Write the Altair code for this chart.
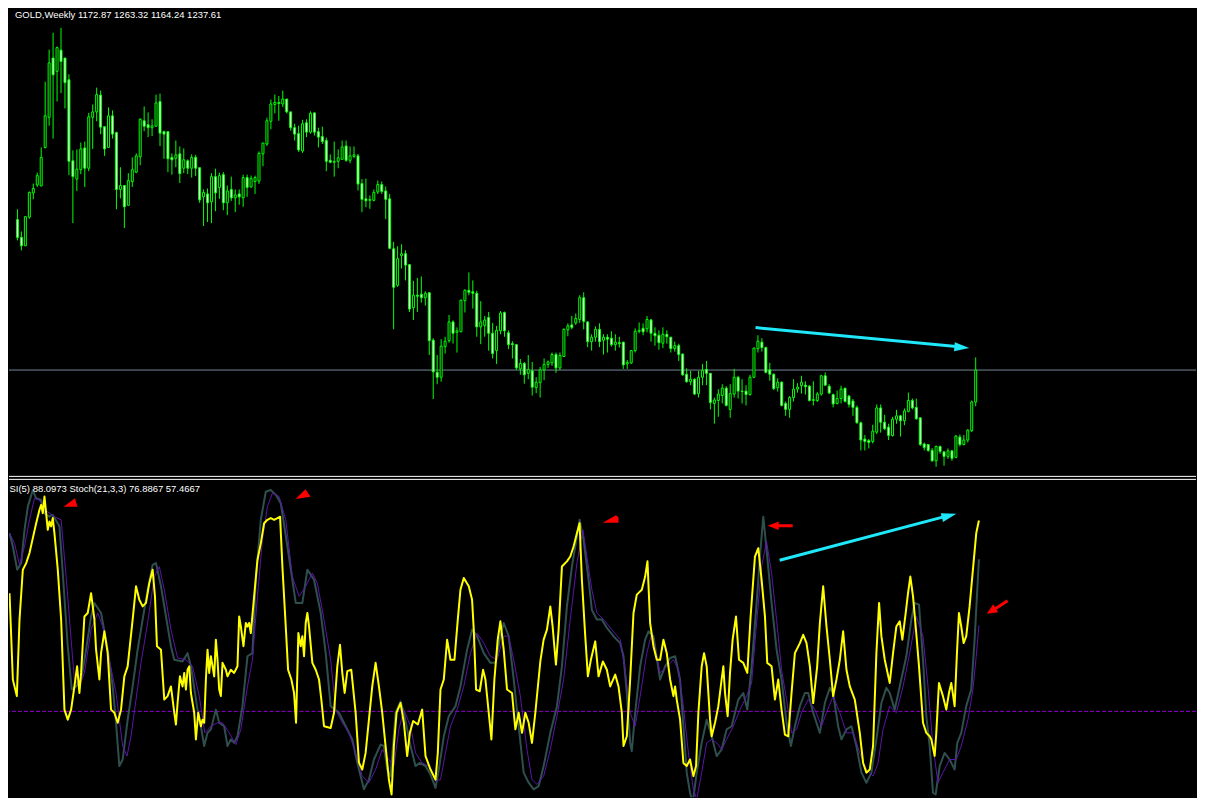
import altair as alt
import pandas as pd

# ---------------- weekly GOLD candles ----------------
O = [1542,1506,1489,1547,1596,1612,1610,1688,1749,1869,
     1842,1885,1869,1825,1661,1624,1643,1687,1646,1749,
     1760,1794,1730,1688,1752,1718,1603,1611,1571,1619,
     1638,1669,1742,1734,1728,1731,1781,1720,1720,1668,
     1666,1675,1646,1661,1646,1668,1647,1588,1594,1578,
     1629,1607,1633,1576,1603,1586,1594,1586,1627,1608,
     1619,1620,1675,1695,1741,1775,1779,1776,1786,1760,
     1728,1716,1681,1738,1719,1758,1720,1710,1702,1662,
     1658,1660,1664,1691,1662,1670,1671,1615,1584,1581,
     1581,1598,1613,1600,1584,1483,1409,1469,1473,1451,
     1364,1389,1391,1384,1394,1298,1233,1223,1285,1297,
     1335,1314,1315,1378,1399,1396,1393,1325,1328,1344,
     1312,1277,1317,1354,1313,1291,1289,1240,1251,1231,
     1236,1202,1212,1238,1249,1252,1269,1242,1265,1319,
     1329,1333,1340,1384,1335,1295,1304,1320,1298,1304,
     1302,1289,1293,1294,1250,1252,1277,1316,1322,1321,
     1339,1312,1308,1292,1310,1304,1281,1287,1270,1229,
     1214,1219,1190,1223,1239,1231,1170,1176,1186,1201,
     1158,1189,1223,1195,1195,1188,1223,1281,1294,1283,
     1238,1229,1202,1213,1170,1158,1182,1199,1206,1207,
     1205,1176,1176,1189,1226,1205,1188,1170,1180,1201,
     1185,1175,1162,1131,1098,1095,1093,1112,1161,1132,
     1122,1105,1138,1145,1135,1154,1176,1162,1141,1088,
     1087,1075,1054,1083,1072,1063,1074,1061,1102,1087,
     1096,1115,1172.87]

H = [1563,1518,1548,1599,1615,1637,1688,1821,1886,1920,
     1892,1930,1869,1836,1682,1684,1698,1700,1758,1775,
     1809,1803,1730,1769,1763,1720,1648,1611,1636,1668,
     1676,1747,1771,1759,1745,1795,1797,1722,1720,1676,
     1702,1690,1686,1664,1674,1673,1647,1603,1605,1636,
     1645,1637,1638,1611,1629,1603,1603,1633,1633,1631,
     1631,1680,1697,1748,1785,1795,1792,1803,1786,1760,
     1736,1732,1744,1745,1761,1758,1728,1730,1708,1674,
     1700,1684,1702,1702,1690,1690,1675,1624,1625,1591,
     1603,1621,1619,1609,1594,1497,1488,1492,1480,1451,
     1418,1424,1427,1397,1395,1302,1268,1300,1305,1349,
     1338,1324,1380,1401,1435,1419,1398,1377,1347,1355,
     1333,1327,1357,1356,1318,1296,1289,1260,1254,1268,
     1254,1223,1244,1261,1257,1273,1273,1273,1322,1332,
     1347,1352,1389,1395,1336,1310,1326,1332,1310,1310,
     1316,1310,1305,1295,1258,1278,1322,1334,1332,1347,
     1341,1324,1318,1324,1318,1305,1295,1291,1271,1241,
     1236,1221,1236,1250,1256,1231,1182,1199,1209,1205,
     1209,1240,1226,1219,1207,1228,1283,1308,1302,1285,
     1252,1231,1221,1215,1174,1185,1219,1211,1226,1215,
     1207,1215,1193,1228,1233,1209,1190,1196,1206,1201,
     1187,1179,1166,1133,1106,1098,1127,1168,1168,1147,
     1129,1143,1157,1147,1160,1192,1180,1180,1142,1091,
     1088,1080,1085,1085,1074,1079,1076,1106,1107,1106,
     1118,1176,1263.32]

L = [1500,1480,1489,1544,1583,1608,1610,1686,1732,1706,
     1781,1798,1767,1632,1535,1600,1634,1608,1640,1685,
     1741,1715,1671,1687,1706,1563,1585,1525,1570,1608,
     1636,1652,1721,1709,1711,1731,1691,1665,1638,1633,
     1648,1616,1636,1634,1627,1630,1576,1529,1537,1535,
     1559,1584,1561,1551,1580,1557,1572,1568,1588,1607,
     1594,1614,1650,1691,1725,1757,1742,1770,1757,1722,
     1702,1679,1677,1709,1716,1712,1688,1695,1640,1656,
     1629,1646,1664,1659,1656,1666,1601,1557,1567,1564,
     1579,1594,1594,1543,1482,1320,1406,1443,1419,1355,
     1339,1355,1374,1368,1268,1179,1209,1214,1271,1293,
     1291,1273,1315,1354,1389,1362,1305,1290,1305,1277,
     1261,1250,1310,1305,1280,1261,1238,1228,1210,1219,
     1186,1191,1182,1217,1242,1246,1232,1238,1264,1306,
     1320,1329,1333,1320,1284,1277,1295,1284,1269,1273,
     1285,1277,1283,1240,1240,1250,1273,1312,1308,1314,
     1295,1287,1279,1282,1291,1273,1275,1256,1226,1212,
     1207,1187,1182,1207,1207,1158,1129,1143,1170,1164,
     1141,1182,1180,1170,1166,1186,1221,1273,1275,1231,
     1216,1197,1194,1164,1145,1141,1174,1192,1190,1188,
     1174,1166,1173,1186,1206,1189,1162,1168,1170,1172,
     1162,1145,1129,1075,1075,1079,1089,1108,1111,1116,
     1096,1103,1129,1103,1126,1152,1158,1137,1084,1075,
     1072,1052,1042,1068,1044,1058,1054,1059,1083,1085,
     1091,1112,1164.24]

C = [1506,1489,1548,1597,1605,1631,1668,1752,1859,1835,
     1890,1862,1819,1660,1629,1644,1685,1646,1750,1760,
     1795,1729,1685,1752,1715,1603,1611,1568,1621,1643,
     1671,1745,1731,1728,1732,1778,1717,1715,1665,1663,
     1673,1635,1663,1646,1668,1646,1582,1597,1576,1629,
     1596,1631,1576,1600,1586,1592,1588,1627,1607,1625,
     1627,1676,1697,1742,1776,1779,1777,1786,1760,1728,
     1715,1683,1736,1719,1757,1719,1709,1700,1660,1658,
     1660,1667,1689,1662,1671,1673,1614,1583,1580,1583,
     1597,1613,1599,1583,1484,1405,1463,1473,1450,1361,
     1389,1387,1384,1393,1297,1234,1223,1286,1296,1335,
     1312,1317,1379,1399,1395,1393,1325,1335,1339,1312,
     1271,1318,1353,1317,1289,1289,1242,1251,1228,1239,
     1203,1213,1238,1249,1254,1269,1242,1267,1320,1327,
     1324,1342,1384,1336,1295,1304,1320,1295,1304,1300,
     1289,1294,1291,1248,1253,1277,1316,1318,1315,1340,
     1312,1307,1293,1310,1305,1281,1287,1269,1228,1214,
     1219,1189,1223,1237,1231,1172,1177,1189,1201,1166,
     1190,1223,1195,1194,1188,1223,1282,1296,1283,1233,
     1229,1200,1213,1166,1158,1182,1199,1203,1213,1204,
     1176,1178,1189,1226,1207,1191,1169,1180,1199,1174,
     1168,1162,1131,1096,1093,1091,1114,1161,1132,1119,
     1105,1138,1145,1135,1155,1176,1161,1139,1087,1081,
     1075,1054,1083,1073,1063,1074,1059,1104,1087,1096,
     1116,1173,1237.61]

TITLE_TOP = "GOLD,Weekly  1172.87 1263.32 1164.24 1237.61"
TITLE_BOT = "SI(5) 88.0973  Stoch(21,3,3) 76.8867 57.4667"
BID = 1237.61
LEVEL = 32.8

# ---------------- oscillator window (bar index, value) ----------------
RSI_PTS = [(-0.74,66.9),(0.09,42.0),(1.09,37.2),(1.76,59.3),(2.59,73.7),(3.43,75.6),(4.26,78.5),(5.09,82.8),
    (5.93,87.1),(6.76,91.0),(7.18,92.4),(7.59,90.0),(8.01,94.8),(8.84,85.2),(9.26,87.6),(9.68,86.2),(10.09,88.6),
    (10.51,84.2),(11.34,73.7),(12.18,59.3),(13.01,33.3),(13.84,30.4),(14.68,33.3),(15.51,40.0),(16.18,45.8),
    (16.76,38.1),(17.18,43.9),(18.01,60.2),(18.84,61.2),(19.68,66.9),(20.51,59.3),(20.93,50.6),(21.76,42.0),
    (22.18,49.6),(23.01,55.9),(23.84,49.6),(24.68,33.3),(25.51,32.4),(26.34,29.5),(27.18,33.3),(28.01,42.9),
    (28.84,45.8),(30.09,59.3),(30.93,68.9),(31.76,65.0),(32.59,63.1),(33.43,64.1),(34.26,69.8),(35.09,73.7),
    (35.68,66.0),(36.18,51.6),(37.18,50.6),(38.01,36.2),(38.84,37.2),(39.68,40.0),(40.51,32.4),(40.93,29.0),
    (41.34,35.2),(41.93,42.9),(42.59,40.0),(43.01,43.9),(43.43,39.1),(43.84,44.8),(44.26,45.8),(44.68,38.1),
    (45.51,32.4),(45.93,24.7),(46.51,32.4),(47.18,28.5),(47.59,30.4),(48.01,29.5),(48.43,42.0),(48.84,50.6),
    (49.26,43.9),(49.68,48.7),(50.51,42.9),(50.93,53.5),(51.34,47.7),(51.76,39.1),(52.18,37.2),(52.59,46.8),
    (53.43,44.8),(53.84,42.9),(54.68,44.8),(55.51,43.9),(56.34,45.8),(56.76,60.2),(57.18,57.3),(57.84,51.6),
    (58.43,58.3),(58.84,57.3),(59.26,58.3),(59.68,55.4),(60.51,66.0),(61.34,76.5),(62.18,81.3),(63.01,87.1),
    (63.84,88.1),(64.68,88.6),(65.51,88.1),(66.34,88.6),(67.01,89.0),(67.59,74.6),(68.43,57.3),(69.01,44.8),
    (69.84,42.0),(70.51,38.1),(71.01,29.5),(71.59,55.4),(72.18,51.6),(72.59,54.5),(73.01,48.7),(73.43,58.3),
    (73.84,61.2),(74.26,57.3),(75.09,46.8),(75.93,44.8),(76.76,42.0),(77.34,36.2),(78.01,28.5),(79.68,28.0),
    (80.51,32.4),(81.34,45.8),(82.01,52.0),(82.59,43.9),(83.18,38.1),(83.84,44.4),(84.84,44.8),(85.93,32.4),
    (86.76,18.0),(87.59,16.0),(88.43,20.8),(89.26,30.4),(90.09,40.0),(90.93,46.8),(91.76,40.0),(92.59,32.4),
    (93.43,22.8),(94.26,13.1),(94.93,8.8),(95.51,22.8),(96.18,32.4),(97.18,35.2),(98.01,29.5),(98.84,19.9),
    (99.51,26.6),(100.34,30.0),(101.51,29.0),(102.59,33.3),(103.43,19.9),(104.68,16.0),(105.93,13.1),
    (106.51,20.8),(107.18,39.1),(108.01,42.0),(108.84,53.5),(109.68,47.7),(110.68,47.7),(111.51,59.3),
    (112.18,67.9),(113.01,71.3),(114.26,68.9),(115.09,65.0),(115.51,56.4),(116.09,39.1),(117.01,38.6),
    (117.84,44.8),(118.43,42.0),(119.26,32.4),(119.93,24.7),(120.68,42.0),(121.51,53.5),(122.18,58.8),
    (123.01,50.6),(123.84,39.1),(125.09,38.1),(125.93,27.6),(126.76,32.4),(127.59,26.6),(128.43,32.4),
    (129.26,29.5),(130.09,23.7),(130.93,32.4),(132.18,47.2),(133.01,53.5),(133.84,56.4),(134.68,63.1),
    (135.26,57.3),(136.09,46.3),(136.76,56.4),(137.59,74.6),(138.84,76.1),(139.68,77.5),(140.51,80.4),
    (141.34,84.2),(142.01,87.1),(142.59,70.8),(143.43,54.5),(144.09,42.9),(144.84,47.7),(145.93,53.0),
    (146.76,42.9),(147.84,47.2),(148.84,44.8),(149.68,40.0),(150.93,43.4),(151.76,40.0),(152.59,32.4),
    (153.01,22.8),(153.84,25.6),(154.68,42.0),(155.51,61.2),(156.34,66.5),(157.59,67.9),(158.43,71.7),
    (159.01,76.1),(159.68,58.3),(160.51,51.6),(161.34,47.7),
    (162.18,47.7),(163.01,53.5),(163.84,49.6),(164.68,42.0),(165.51,37.2),(165.93,40.0),(166.34,36.2),
    (167.18,30.4),(168.01,17.9),(168.84,17.0),(169.68,18.9),(170.51,14.1),(171.18,17.0),(171.76,32.4),
    (172.59,45.8),(173.18,49.6),(173.84,45.8),(174.68,30.4),(175.09,25.6),(175.93,29.5),(176.76,34.3),
    (177.59,42.0),(178.01,45.8),(178.43,38.1),(179.09,31.4),(179.68,43.9),(180.34,53.5),(181.18,60.2),
    (181.93,47.7),(183.01,46.8),(184.01,43.9),(184.84,60.2),(185.93,77.5),(186.76,79.9),(187.59,70.8),
    (188.43,60.2),(189.01,46.8),(190.09,45.8),(190.93,36.2),(191.76,42.0),(192.59,33.3),(193.43,26.1),
    (194.26,25.6),(195.09,38.1),(195.93,49.6),(197.18,52.5),(198.01,54.9),(198.84,52.5),(199.68,45.8),
    (200.51,35.2),(201.51,45.8),(202.18,58.3),(203.01,68.9),(203.84,57.3),(204.68,47.7),(205.51,37.2),
    (206.34,42.0),(207.18,47.7),(208.01,55.9),(208.84,44.8),(209.68,40.0),(210.93,36.2),(212.18,26.6),
    (213.01,17.9),(213.84,15.1),(214.68,16.0),(215.51,22.8),(216.34,49.6),(217.01,64.1),(217.59,54.5),
    (218.43,47.7),(219.68,41.0),(220.51,49.6),(221.34,57.3),(222.18,58.8),(222.84,53.5),(223.68,61.2),
    (224.26,66.9),(224.84,71.7),(225.51,66.0),(226.18,57.3),(227.01,45.8),(228.01,29.5),(228.84,26.6),
    (229.68,25.6),(230.09,24.7),(230.93,19.9),(231.34,26.6),(232.01,41.0),(233.01,37.2),(233.84,33.3),
    (234.51,38.1),(235.09,41.0),(235.93,34.3),(236.51,49.6),(237.01,61.2),(237.59,57.3),(238.18,52.5),
    (238.84,54.5),(239.68,63.1),(240.51,73.7),(241.34,84.2),(242.01,87.9)]

STO_PTS = [(-0.74,84.2),(0.09,80.4),(1.18,73.7),(2.18,75.6),(3.01,85.2),(3.84,91.9),(5.09,96.7),(5.93,94.3),
    (7.18,93.8),(8.01,90.0),(9.26,89.0),(10.09,89.5),(11.76,86.2),(12.59,72.7),(13.84,51.6),(14.84,39.1),
    (15.93,40.0),(17.18,42.0),(18.43,50.6),(19.68,60.2),(20.51,64.1),(22.18,61.2),(23.84,50.6),(25.09,40.0),
    (25.93,29.5),(26.76,17.0),(27.59,18.9),(28.84,30.4),(30.09,40.0),(31.34,50.6),(32.59,59.3),(33.84,67.9),
    (35.09,75.1),(35.93,75.6),(37.18,68.9),(38.43,60.2),(39.68,51.6),(40.51,47.7),(42.59,47.2),(43.84,49.6),
    (44.68,45.8),(46.34,33.3),(47.18,28.5),(48.01,22.8),(48.84,26.6),(49.68,27.6),(50.93,33.3),(51.76,29.5),
    (53.01,28.5),(53.84,22.8),(54.68,24.7),(55.51,23.7),(56.34,25.6),(57.59,34.3),(58.84,48.7),(60.09,49.6),
    (60.93,70.8),(62.18,88.1),(63.43,96.2),(64.68,96.7),(65.93,95.3),(67.18,92.9),(68.84,80.4),(70.93,64.1),
    (72.59,64.1),(73.84,73.7),(75.51,70.8),(77.18,61.2),(78.43,49.6),(79.68,34.3),
    (81.76,32.4),(83.43,28.5),(85.09,24.7),(86.34,18.0),(88.01,10.3),(89.26,13.1),(90.51,18.9),(92.18,23.2),
    (93.01,22.8),(93.84,16.0),(94.68,14.1),(95.93,32.4),(97.18,35.7),(98.01,32.4),(99.68,22.8),(100.93,17.0),
    (101.93,17.9),(103.43,17.0),(104.68,14.6),(105.93,10.7),(106.76,16.0),(108.01,25.6),(109.26,31.4),
    (110.93,34.3),(112.18,40.0),(113.84,50.6),(115.09,56.4),(116.34,54.5),(118.01,49.6),(119.68,46.8),
    (120.93,46.8),(122.18,54.5),(123.01,58.3),(124.26,54.5),(125.51,42.0),(126.76,28.5),(128.01,15.1),
    (129.26,12.2),(130.51,10.3),(131.76,11.2),(133.01,17.0),(134.68,26.6),(136.34,34.3),(137.59,45.8),
    (138.84,63.1),(140.09,74.6),(141.34,83.3),(142.01,88.1),(143.01,82.3),(144.26,70.8),(145.09,62.1),
    (146.34,59.3),(147.59,59.3),(148.84,56.9),(150.51,54.5),(152.18,52.5),(153.01,48.7),(153.84,38.1),
    (154.68,23.7),(155.09,21.3),(155.93,32.4),(157.18,45.8),(158.43,53.5),(159.26,55.9),(160.51,54.5),
    (162.18,42.0),(163.43,45.8),(164.68,48.2),(165.93,48.7),(167.18,42.0),(168.01,28.5),(168.84,15.1),
    (169.68,9.3),(170.34,6.3),(171.34,15.1),(172.59,23.7),(173.84,30.4),(175.09,25.6),(176.34,19.9),
    (177.59,21.8),(178.84,27.6),(180.09,28.5),(181.76,36.2),(183.01,38.1),(184.01,33.3),(185.09,45.8),
    (186.34,64.1),(187.18,77.5),(188.01,89.0),(188.84,79.4),(190.09,64.1),(191.34,50.6),(192.59,42.0),
    (193.84,29.5),(194.93,22.8),(195.93,28.5),(197.18,34.3),(198.43,38.1),(199.26,38.1),(200.51,32.4),
    (202.18,26.6),(203.43,35.2),(204.68,39.6),(205.51,38.1),(206.76,28.5),(207.59,24.7),(208.84,27.6),
    (210.09,28.5),(211.34,22.8),(212.59,15.1),(213.84,12.2),(215.09,15.1),(216.34,24.7),(217.59,35.2),
    (218.84,39.6),(219.68,38.1),(220.93,33.3),(222.18,40.0),(223.84,48.7),(225.09,59.3),(225.93,64.1),
    (227.01,63.6),(228.01,47.7),(228.84,31.4),(229.68,22.8),(230.51,9.3),(231.18,8.8),(232.18,17.0),
    (233.43,20.8),(234.68,18.9),(235.93,16.0),(236.59,23.7),(237.59,26.6),(238.84,34.3),(240.09,39.1),
    (240.93,53.5),(242.01,76.7)]

SIG_PTS = [(-0.74,84.2),(0.51,81.3),(1.76,75.1),(3.01,80.4),(4.26,88.1),(5.51,94.3),(6.76,93.8),(8.01,91.0),
    (10.51,89.0),(12.18,88.1),(13.43,71.7),(14.68,53.5),(15.51,42.0),(16.76,40.0),(18.01,43.9),(19.68,56.4),
    (21.34,61.2),(22.59,57.3),(24.26,47.7),(25.93,38.1),(27.59,22.8),(28.68,19.9),(29.68,25.6),(30.93,36.2),
    (32.18,46.8),(33.84,58.3),(35.51,71.7),(36.76,74.6),(38.01,67.9),(39.68,56.4),(41.34,48.2),(43.43,47.7),
    (45.09,45.8),(46.76,37.2),(48.18,26.6),(49.68,28.5),(51.34,29.5),(52.59,29.5),(54.26,26.6),(55.93,23.2),
    (57.18,27.6),(58.84,40.0),(60.09,47.7),(61.34,66.0),(62.59,82.3),(63.84,91.9),(65.09,95.8),(66.76,94.8),
    (68.43,88.1),(70.09,71.7),(71.76,66.0),(73.43,68.9),(75.09,72.7),(76.34,69.8),(78.01,59.3),(79.68,47.7),
    (80.93,33.3),(82.59,29.5),(84.26,26.6),(85.93,20.8),(87.59,14.1),(89.26,12.2),(90.93,16.0),(92.59,21.8),
    (94.26,18.9),(95.51,17.0),(96.76,27.6),(98.01,33.3),(99.68,28.5),(100.93,20.8),(102.59,17.9),(104.26,17.0),
    (105.93,12.7),(107.18,13.1),(108.43,20.8),(109.68,28.5),(111.34,33.3),(113.01,40.0),(114.68,49.6),
    (116.34,55.4),(118.01,52.5),(119.68,48.7),(121.34,47.7),(123.01,54.5),(124.26,54.5),(125.51,47.7),
    (127.18,37.2),(128.84,21.8),(130.09,13.1),(131.34,11.7),(133.01,14.1),(134.68,21.8),(136.34,31.4),
    (138.01,42.0),(139.68,59.3),(141.34,75.6),(142.84,85.2),(143.84,77.5),(145.09,67.9),(146.34,61.2),
    (148.01,59.3),(150.09,56.4),(152.18,53.5),(153.43,44.8),(154.68,32.4),(155.93,28.5),(157.18,37.2),
    (158.84,49.6),(160.09,55.4),
    (162.18,43.9),(163.84,45.8),(165.51,47.7),(166.76,44.8),(168.01,34.3),(169.26,20.8),(170.51,10.3),
    (171.34,7.4),(172.59,15.1),(173.84,23.7),(175.09,24.7),(176.34,23.7),(177.59,21.8),(178.84,24.7),
    (180.51,28.5),(182.18,33.3),(183.84,37.2),(185.09,41.0),(186.34,58.3),(187.59,74.6),(188.84,81.8),
    (190.09,72.7),(191.34,59.3),(192.59,44.8),(193.84,36.2),(195.09,26.6),(196.34,27.6),(197.59,32.4),
    (199.26,36.2),(200.93,33.3),(202.59,28.5),(203.84,32.4),(205.51,37.2),(207.18,32.4),(208.84,26.6),
    (210.51,26.6),(212.18,20.8),(213.84,16.0),(215.51,14.1),(216.76,17.9),(218.01,27.6),(219.68,34.3),
    (221.34,32.4),(223.01,40.0),(224.68,49.6),(226.34,60.2),(228.01,54.5),(229.26,40.0),(230.51,22.8),
    (231.76,12.2),(233.01,15.1),(234.68,18.9),(236.34,18.9),(237.59,22.8),(239.26,30.4),(240.51,39.1),
    (241.34,48.7),(242.01,57.6)]

# ---------------- hand-drawn annotations (bar index, price / value) ----------------
CYAN_TOP = [(186.4, 1323.5), (237.1, 1285.1)]
CYAN_TOP_HEAD = (238.5, 1283.5, 5.3)
CYAN_BOT = [(192.1, 76.4), (233.4, 89.0)]
CYAN_BOT_HEAD = (234.55, 89.3, 345.2)
RED_MARKS = [
    (14.55, 93.1, "M-1,0.6L1,0.6L0.61,-0.6Z", 196),
    (72.75, 95.5, "M-1,0.64L1,0.33L0.33,-0.65Z", 225),
    (149.8, 88.3, "M-1,0.46L0.66,-0.48L0.98,-0.23L0.98,0.46Z", 256),
    (192.25, 86.4, "M-1,0L-0.12,-0.33L-0.12,-0.12L1,-0.12L1,0.12L-0.12,0.12L-0.12,0.34Z", 625),
]
RED_ARROW = [(249.2, 64.7), (245.9, 62.3)]
RED_ARROW_HEAD = (245.1, 61.8, 148.3)

# ---------------- layout ----------------
W = 1189
TOP_H = 470
BOT_H = 320
X_DOM = [-0.875, 296.375]
P_DOM = [1019.44, 1968.84]
V_DOM = [7.98, 100.2]

LIME = "#00ff00"
CYAN = "#1ee8fa"
RED = "#ff0000"
HEAD = "M-1,-0.6L1,0L-1,0.6Z"
HEAD_SMALL = "M-1,-0.9L1,0L-1,0.9Z"
FONT = "Liberation Sans"

xs = alt.Scale(domain=X_DOM, nice=False, zero=False)
ps = alt.Scale(domain=P_DOM, nice=False, zero=False)
vs = alt.Scale(domain=V_DOM, nice=False, zero=False)


def X(f):
    return alt.X(f, type="quantitative", scale=xs, axis=None)


def YP(f):
    return alt.Y(f, type="quantitative", scale=ps, axis=None)


def YV(f):
    return alt.Y(f, type="quantitative", scale=vs, axis=None)


one = pd.DataFrame({"a": [0]})
cdf = pd.DataFrame({"i": list(range(len(C))), "O": O, "H": H, "L": L, "C": C})

# top window
bid = alt.Chart(pd.DataFrame({"p": [BID]})).mark_rule(color="#778899", strokeWidth=1).encode(y=YP("p"))
wicks = alt.Chart(cdf).mark_rule(color=LIME, strokeWidth=1).encode(x=X("i"), y=YP("H"), y2="L")
bodies = alt.Chart(cdf).mark_bar(size=2, stroke=LIME, strokeWidth=1).encode(
    x=X("i"), y=YP("O"), y2="C",
    fill=alt.condition("datum.C >= datum.O", alt.value("#000000"), alt.value("#ffffff")))
cshaft = alt.Chart(pd.DataFrame(CYAN_TOP, columns=["i", "p"])).mark_line(
    color=CYAN, strokeWidth=3, strokeCap="butt").encode(x=X("i"), y=YP("p"))
chead = alt.Chart(pd.DataFrame([CYAN_TOP_HEAD[:2]], columns=["i", "p"])).mark_point(
    shape=HEAD, size=225, filled=True, color=CYAN, opacity=1, strokeWidth=0,
    angle=CYAN_TOP_HEAD[2]).encode(x=X("i"), y=YP("p"))
ttop = alt.Chart(pd.DataFrame({"t": [TITLE_TOP]})).mark_text(
    align="left", baseline="alphabetic", font=FONT, fontSize=9.5, color="#ffffff").encode(
    x=alt.value(6), y=alt.value(9), text="t:N")
sep1 = alt.Chart(one).mark_rule(color="#ffffff", strokeWidth=1).encode(
    x=alt.value(0), x2=alt.value(W), y=alt.value(468.5))

top = alt.layer(bid, wicks, bodies, cshaft, chead, ttop, sep1).properties(width=W, height=TOP_H)

# bottom window
level = alt.Chart(pd.DataFrame({"v": [LEVEL]})).mark_rule(
    color="#9400d3", strokeWidth=1, strokeDash=[4, 2]).encode(y=YV("v"))
sto = alt.Chart(pd.DataFrame(STO_PTS, columns=["i", "v"])).mark_line(
    color="#2f4f4f", strokeWidth=2, clip=True, strokeJoin="round").encode(x=X("i"), y=YV("v"))
sig = alt.Chart(pd.DataFrame(SIG_PTS, columns=["i", "v"])).mark_line(
    color="#5a16a8", strokeWidth=1, clip=True, strokeJoin="round").encode(x=X("i"), y=YV("v"))
rsi = alt.Chart(pd.DataFrame(RSI_PTS, columns=["i", "v"])).mark_line(
    color="#ffff00", strokeWidth=2, clip=True, strokeJoin="round").encode(x=X("i"), y=YV("v"))

reds = []
for (ri, rv, path, sz) in RED_MARKS:
    reds.append(alt.Chart(pd.DataFrame({"i": [ri], "v": [rv]})).mark_point(
        shape=path, size=sz, filled=True, color=RED, opacity=1, strokeWidth=0).encode(
        x=X("i"), y=YV("v")))
rshaft = alt.Chart(pd.DataFrame(RED_ARROW, columns=["i", "v"])).mark_line(
    color=RED, strokeWidth=3, strokeCap="butt").encode(x=X("i"), y=YV("v"))
rhead = alt.Chart(pd.DataFrame([RED_ARROW_HEAD[:2]], columns=["i", "v"])).mark_point(
    shape=HEAD_SMALL, size=110, filled=True, color=RED, opacity=1, strokeWidth=0,
    angle=RED_ARROW_HEAD[2]).encode(x=X("i"), y=YV("v"))
bshaft = alt.Chart(pd.DataFrame(CYAN_BOT, columns=["i", "v"])).mark_line(
    color=CYAN, strokeWidth=3, strokeCap="butt").encode(x=X("i"), y=YV("v"))
bhead = alt.Chart(pd.DataFrame([CYAN_BOT_HEAD[:2]], columns=["i", "v"])).mark_point(
    shape=HEAD, size=225, filled=True, color=CYAN, opacity=1, strokeWidth=0,
    angle=CYAN_BOT_HEAD[2]).encode(x=X("i"), y=YV("v"))
tbot = alt.Chart(pd.DataFrame({"t": [TITLE_BOT]})).mark_text(
    align="left", baseline="alphabetic", font=FONT, fontSize=9.5, color="#ffffff").encode(
    x=alt.value(0.5), y=alt.value(13.7), text="t:N")
sep2 = alt.Chart(one).mark_rule(color="#ffffff", strokeWidth=1).encode(
    x=alt.value(0), x2=alt.value(W), y=alt.value(1.5))

bottom = alt.layer(level, sto, sig, rsi, *reds, rshaft, rhead, bshaft, bhead, tbot, sep2).properties(
    width=W, height=BOT_H)

chart = alt.vconcat(top, bottom, spacing=0, padding=0, background="#000000").resolve_scale(
    x="independent", y="independent").configure_view(stroke=None)

chart.save("out.html", embed_options={"renderer": "svg", "actions": False})
